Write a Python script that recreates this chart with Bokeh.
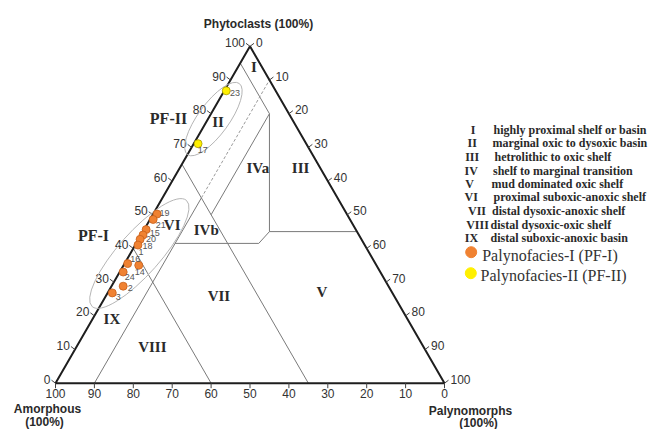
import numpy as np
from bokeh.plotting import figure
from bokeh.models import Range1d
from bokeh.embed import file_html
from bokeh.resources import INLINE
from bokeh.core.properties import value

# ---------------- data (ternary %: Phytoclasts, Palynomorphs; Amorphous = rest) ----
pf1_ids = ["19", "21", "15", "20", "18", "1", "16", "14", "24", "2", "3"]
pf1_phyto = [50.2, 48.6, 45.6, 44.0, 42.7, 41.0, 35.5, 35.0, 33.0, 28.8, 26.8]
pf1_palyno = [1.0, 0.8, 0.5, 0.5, 0.4, 0.7, 0.8, 3.9, 0.9, 3.0, 1.2]
pf2_ids = ["23", "17"]
pf2_phyto = [86.8, 71.1]
pf2_palyno = [0.5, 1.1]

tick_values = [0, 10, 20, 30, 40, 50, 60, 70, 80, 90, 100]

# field boundaries: (P1, M1, P2, M2)
field_lines = [
    (95, 0, 80, 15),      # AOM 5
    (80, 15, 50, 15),     # Palyno 15
    (65, 0, 0, 65),       # AOM 35
    (80, 15, 45, 32.5),   # vertical
    (45, 32.5, 45, 55),   # Phyto 45
    (45, 32.5, 41.5, 31.5),
    (41.5, 10, 41.5, 31.5),
    (0, 10, 55, 10),      # Palyno 10 (solid)
    (40, 0, 0, 40),       # AOM 60
]
dashed_lines = [(55, 10, 90, 10)]

field_names = ["I", "II", "III", "IVa", "IVb", "V", "VI", "VII", "VIII", "IX"]
field_P = [94, 77.6, 64, 64, 45.5, 27, 47, 26, 10.6, 19]
field_M = [4, 3, 31, 20, 16, 55, 6.5, 29, 19.6, 5]

legend_num = ["I", "II", "III", "IV", "V", "VI", "VII", "VIII", "IX"]
legend_txt = ["highly proximal shelf or basin", "marginal oxic to dysoxic basin",
              "hetrolithic to oxic shelf", "shelf to marginal transition",
              "mud dominated oxic shelf", "proximal suboxic-anoxic shelf",
              "distal dysoxic-anoxic shelf", "distal dysoxic-oxic shelf",
              "distal suboxic-anoxic basin"]

# ---------------- geometry helpers ----------------
SQ = np.sqrt(3) / 2
X0, Y0, S = 55.0, 382.7, 389.0   # page px of Amorphous corner, side length


def tern(P, M):
    P = np.asarray(P, float) / 100.0
    M = np.asarray(M, float) / 100.0
    return M + P / 2, P * SQ


def px(X, Y):
    return (np.asarray(X, float) - X0) / S, (Y0 - np.asarray(Y, float)) / S


W, H = 649, 429
p = figure(width=W, height=H, x_range=Range1d((0 - X0) / S, (W - X0) / S),
           y_range=Range1d((Y0 - H) / S, (Y0 - 0) / S),
           output_backend="svg", toolbar_location=None, min_border=0,
           x_axis_type=None, y_axis_type=None)
p.outline_line_color = None
p.background_fill_color = "white"

SANS = value("Liberation Sans")
SERIF = value("Liberation Serif")

# field boundaries
xs, ys = [], []
for P1, M1, P2, M2 in field_lines:
    xa, ya = tern([P1, P2], [M1, M2])
    xs.append(list(xa)); ys.append(list(ya))
p.multi_line(xs, ys, line_color="#7a7a7a", line_width=1)
for P1, M1, P2, M2 in dashed_lines:
    xa, ya = tern([P1, P2], [M1, M2])
    p.line(xa, ya, line_color="#9a9a9a", line_width=1, line_dash="3 2")

# triangle outline
tx, ty = tern([100, 0, 0, 100], [0, 0, 100, 0])
p.line(tx, ty, line_color="#1e1e1e", line_width=2)

# ticks
tl = 5.0 / S
tv = np.array(tick_values, float)
lx, ly = tern(tv, np.zeros_like(tv))                 # left: phytoclasts
rx, ry = tern(100 - tv, tv)                           # right: palynomorphs
bx, by = tern(np.zeros_like(tv), 100 - tv)            # bottom: amorphous
tick_xs, tick_ys = [], []
for i in range(len(tv)):
    tick_xs.append([lx[i], lx[i] - 0.8 * tl]); tick_ys.append([ly[i], ly[i] + 0.6 * tl])
    tick_xs.append([rx[i], rx[i] + 0.8 * tl]); tick_ys.append([ry[i], ry[i] + 0.6 * tl])
    tick_xs.append([bx[i], bx[i]]); tick_ys.append([by[i], by[i] - tl])
p.multi_line(tick_xs, tick_ys, line_color="#444444", line_width=1)

labs = [str(int(v)) for v in tick_values]
p.text(lx - 0.8 * tl, ly + 0.6 * tl, text=labs, text_font=SANS, text_font_size="12px",
       text_color="#333333", text_align="right", text_baseline="middle", x_offset=-1, y_offset=-1)
p.text(rx + 0.8 * tl, ry + 0.6 * tl, text=labs, text_font=SANS, text_font_size="12px",
       text_color="#333333", text_align="left", text_baseline="middle", x_offset=2, y_offset=-1)
p.text(bx, by - tl, text=labs, text_font=SANS, text_font_size="12px",
       text_color="#333333", text_align="center", text_baseline="top", x_offset=0, y_offset=1)

# axis titles
tx_, ty_ = px([258, 47, 44, 470, 478], [23, 408, 421, 410, 422])
p.text(tx_, ty_, text=["Phytoclasts (100%)", "Amorphous", "(100%)", "Palynomorphs", "(100%)"],
       text_font=SANS, text_font_style="bold", text_font_size="12px", text_color="#2a2a2a",
       text_align="center", text_baseline="middle")

# ellipses around groups
e2x, e2y = tern([78.4], [1.4])
p.ellipse(e2x, e2y, width=88 / S, height=31 / S, angle=np.deg2rad(54),
          fill_color=None, line_color="#b5b5b5", line_width=1)
e1x, e1y = tern([38.5], [2.3])
p.ellipse(e1x, e1y, width=142 / S, height=42 / S, angle=np.deg2rad(48.4),
          fill_color=None, line_color="#b5b5b5", line_width=1)

# field labels
fx, fy = tern(field_P, field_M)
p.text(fx, fy, text=field_names, text_font=SERIF, text_font_style="bold",
       text_font_size="15px", text_color="#2a2a2a", text_align="center", text_baseline="middle")
gx, gy = px([168, 93], [118, 235])
p.text(gx, gy, text=["PF-II", "PF-I"], text_font=SERIF, text_font_style="bold",
       text_font_size="16px", text_color="#2a2a2a", text_align="center", text_baseline="middle")

# data points
ORANGE, YELLOW = "#F08232", "#FFF000"
x1, y1 = tern(pf1_phyto, pf1_palyno)
p.scatter(x1, y1, size=8, marker="circle", fill_color=ORANGE, line_color="#c8601a", line_width=0.8)
x2, y2 = tern(pf2_phyto, pf2_palyno)
p.scatter(x2, y2, size=8, marker="circle", fill_color=YELLOW, line_color="#a89a00", line_width=0.8)

pf1_off = [(2.5, -1.3), (2.5, 5.7), (3.5, 3), (3, 4.3), (2.5, 6.3), (0.5, 6.7),
           (2.5, -5), (-3.9, 6.3), (1.5, 5), (4.5, 2.3), (3.5, 4)]
pf2_off = [(3.8, 2.7), (-0.2, 6.7)]
for xx, yy, ids, offs in [(x1, y1, pf1_ids, pf1_off), (x2, y2, pf2_ids, pf2_off)]:
    for i in range(len(ids)):
        p.text([xx[i]], [yy[i]], text=[ids[i]], text_font=SANS, text_font_size="9px",
               text_color="#555555", text_align="left", text_baseline="middle",
               x_offset=offs[i][0], y_offset=offs[i][1])

# legend
rows_y = [129.3, 142.7, 156, 170, 183.3, 196.7, 210, 224, 237.3]
num_x = [472.7, 471.7, 471.7, 470.7, 469, 470.7, 476.5, 477, 471]
txt_x = [493, 492, 494, 492.5, 491, 493, 491.5, 490, 490]
nx, ny = px(num_x, rows_y)
p.text(nx, ny, text=legend_num, text_font=SERIF, text_font_style="bold", text_font_size="12px",
       text_color="#2a2a2a", text_align="center", text_baseline="middle")
dx, dy = px(txt_x, rows_y)
p.text(dx, dy, text=legend_txt, text_font=SERIF, text_font_style="bold", text_font_size="12px",
       text_color="#2a2a2a", text_align="left", text_baseline="middle")

lcx, lcy = px([470.7, 470.3], [251.7, 272.7])
p.scatter(lcx[:1], lcy[:1], size=11, marker="circle", fill_color=ORANGE, line_color=ORANGE)
p.scatter(lcx[1:], lcy[1:], size=11, marker="circle", fill_color=YELLOW, line_color=YELLOW)
ltx, lty = px([481.7, 480], [254.5, 275])
p.text(ltx, lty, text=["Palynofacies-I (PF-I)", "Palynofacies-II (PF-II)"], text_font=SERIF,
       text_font_size="16px", text_color="#333333", text_align="left", text_baseline="middle")

open("out.html", "w").write(file_html(p, INLINE))
